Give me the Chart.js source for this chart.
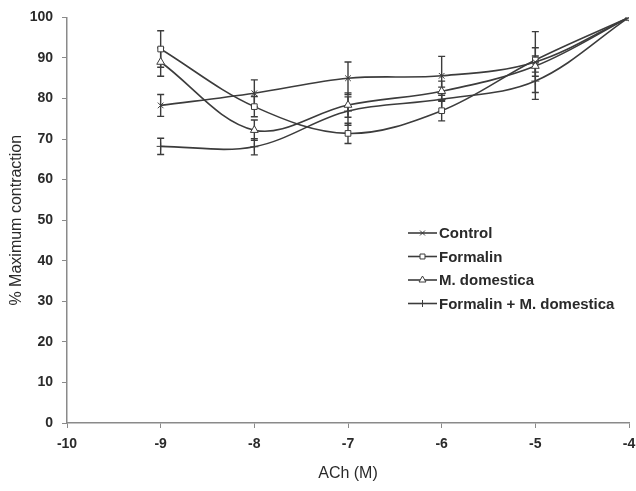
<!DOCTYPE html>
<html>
<head>
<meta charset="utf-8">
<script src="https://cdn.jsdelivr.net/npm/chart.js@4/dist/chart.umd.min.js"></script>
<style>
  html, body { margin: 0; padding: 0; background: #fff; }
  #wrap { width: 636px; height: 491px; }
</style>
</head>
<body>
<div id="wrap"><canvas id="chart"></canvas></div>
<script>
// ACh concentration (log M)
const doses = [-9, -8, -7, -6, -5, -4];

const seriesNames = ['Control', 'Formalin', 'M. domestica', 'Formalin + M. domestica'];

const control      = [78.3, 81.3, 85.0, 85.6, 89.0, 100];
const formalin     = [92.2, 78.0, 71.4, 77.0, 89.5, 100];
const mDomestica   = [89.0, 72.2, 78.4, 81.8, 88.0, 100];
const formalinMDom = [68.2, 68.1, 76.9, 79.8, 84.3, 100];

// +/- error (SEM)
const controlErr      = [2.7, 3.3, 4.0, 4.8, 7.5, 0];
const formalinErr     = [4.5, 2.5, 2.5, 2.5, 3.0, 0];
const mDomesticaErr   = [3.5, 2.5, 3.0, 2.5, 2.5, 0];
const formalinMDomErr = [2.0, 2.0, 3.5, 3.0, 4.5, 0];

const xTicks = [-10, -9, -8, -7, -6, -5, -4];
const yTicks = [0, 10, 20, 30, 40, 50, 60, 70, 80, 90, 100];

const lineColor = '#3c3c3c';
const axisColor = '#8a8a8a';
const textColor = '#2a2a2a';
const markers = ['crossRot', 'rect', 'triangle', 'cross'];
const markerSizes = [4, 4, 4.5, 4];

function toPoints(values) {
    return values.map((v, i) => ({ x: doses[i], y: v }));
}

const allValues = [control, formalin, mDomestica, formalinMDom];
const allErrors = [controlErr, formalinErr, mDomesticaErr, formalinMDomErr];

const datasets = allValues.map((vals, k) => ({
    label: seriesNames[k],
    data: toPoints(vals),
    errors: allErrors[k],
    borderColor: lineColor,
    borderWidth: 1.6,
    backgroundColor: '#ffffff',
    pointStyle: markers[k],
    pointRadius: markerSizes[k],
    pointBorderWidth: 1,
    pointBorderColor: lineColor,
    pointBackgroundColor: '#ffffff',
    tension: 0.35
}));

// error bars, drawn under the markers
const errorBars = {
    id: 'errorBars',
    beforeDatasetsDraw(chart) {
        const ctx = chart.ctx;
        const xs = chart.scales.x, ys = chart.scales.y;
        ctx.save();
        ctx.strokeStyle = lineColor;
        ctx.lineWidth = 1.4;
        chart.data.datasets.forEach(ds => {
            ds.data.forEach((p, i) => {
                const e = ds.errors[i];
                if (!e) return;
                const px = xs.getPixelForValue(p.x);
                const top = ys.getPixelForValue(p.y + e);
                const bot = ys.getPixelForValue(p.y - e);
                ctx.beginPath();
                ctx.moveTo(px, top); ctx.lineTo(px, bot);
                ctx.moveTo(px - 3.5, top); ctx.lineTo(px + 3.5, top);
                ctx.moveTo(px - 3.5, bot); ctx.lineTo(px + 3.5, bot);
                ctx.stroke();
            });
        });
        ctx.restore();
    }
};

// legend inside the plot area
const innerLegend = {
    id: 'innerLegend',
    afterDraw(chart) {
        const ctx = chart.ctx;
        const x0 = 408, x1 = 437, y0 = 233, gap = 23.5;
        ctx.save();
        chart.data.datasets.forEach((ds, k) => {
            const y = y0 + k * gap;
            ctx.strokeStyle = lineColor;
            ctx.lineWidth = 1.6;
            ctx.beginPath();
            ctx.moveTo(x0, y); ctx.lineTo(x1, y);
            ctx.stroke();
            ctx.fillStyle = '#ffffff';
            ctx.lineWidth = 1;
            Chart.helpers.drawPoint(ctx, {
                pointStyle: ds.pointStyle,
                radius: ds.pointRadius - 0.5,
                borderWidth: 1
            }, (x0 + x1) / 2, y);
            ctx.fillStyle = textColor;
            ctx.font = 'bold 15px "Liberation Sans", Arial, sans-serif';
            ctx.textBaseline = 'middle';
            ctx.fillText(ds.label, x1 + 2, y + 1);
        });
        ctx.restore();
    }
};

const tickFont = { family: '"Liberation Sans", Arial, sans-serif', size: 14, weight: 'bold' };
const titleFont = { family: '"Liberation Sans", Arial, sans-serif', size: 16 };

new Chart(document.getElementById('chart'), {
    type: 'line',
    data: { datasets: datasets },
    options: {
        responsive: true,
        maintainAspectRatio: false,
        animation: false,
        layout: { padding: { top: 16, right: 7, bottom: 0, left: 4 } },
        plugins: {
            legend: { display: false },
            tooltip: { enabled: false }
        },
        scales: {
            x: {
                type: 'linear',
                min: -10,
                max: -4,
                afterBuildTicks: s => { s.ticks = xTicks.map(v => ({ value: v })); },
                afterFit: s => { s.height = 68; s.paddingRight = 0; },
                ticks: { color: textColor, font: tickFont, padding: 8 },
                grid: { drawOnChartArea: false, drawTicks: true, tickLength: 5, color: axisColor },
                border: { color: axisColor, width: 1.5 },
                title: { display: true, text: 'ACh (M)', color: textColor, font: titleFont, padding: { top: 4, bottom: 8 } }
            },
            y: {
                min: 0,
                max: 100,
                afterBuildTicks: s => { s.ticks = yTicks.map(v => ({ value: v })); },
                afterFit: s => { s.width = 63; },
                ticks: { color: textColor, font: tickFont, padding: 9 },
                grid: { drawOnChartArea: false, drawTicks: true, tickLength: 5, color: axisColor },
                border: { color: axisColor, width: 1.5 },
                title: { display: true, text: '% Maximum contraction', color: textColor, font: titleFont, padding: { top: 3, bottom: 4 } }
            }
        }
    },
    plugins: [errorBars, innerLegend]
});
</script>
</body>
</html>
